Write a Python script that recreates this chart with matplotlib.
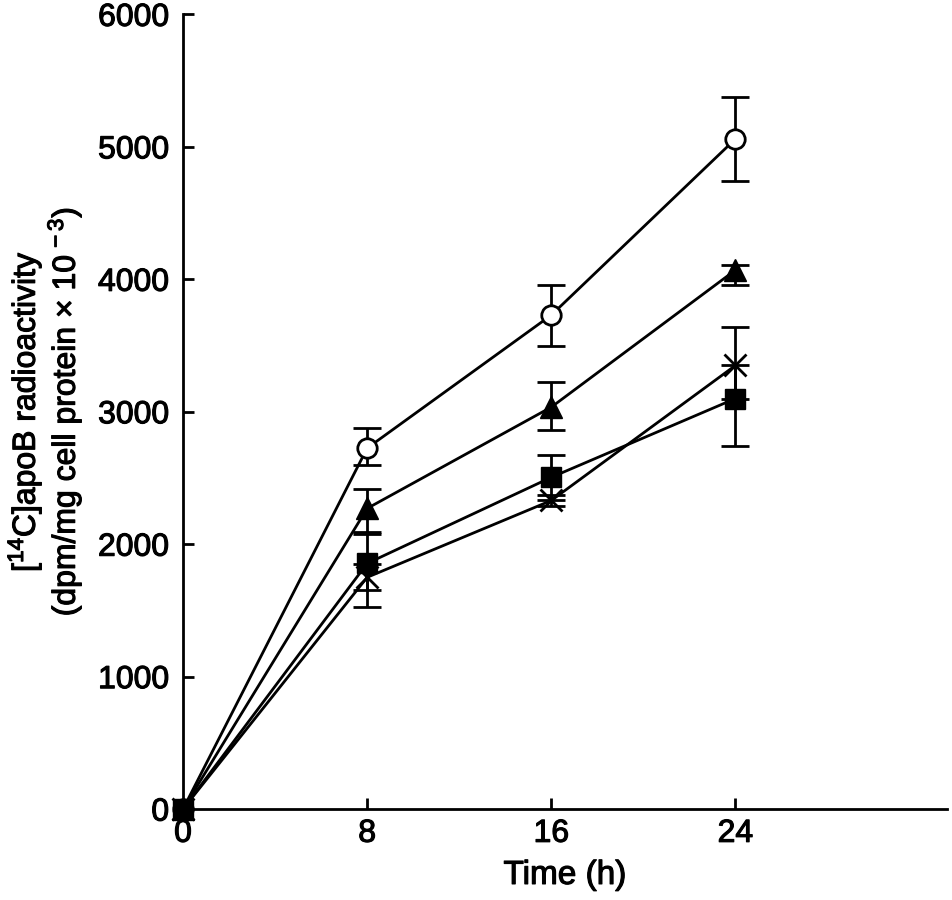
import matplotlib.pyplot as plt
import matplotlib.patheffects as pe

plt.rcParams['font.family'] = ['Liberation Sans', 'DejaVu Sans']
plt.rcParams['mathtext.fontset'] = 'custom'
plt.rcParams['mathtext.rm'] = 'Liberation Sans'
plt.rcParams['mathtext.it'] = 'Liberation Sans'

# time points (h)
time = [0, 8, 16, 24]

# series values and error bars
circle_y = [0, 2725, 3730, 5060]
circle_lo = [0, 130, 235, 320]
circle_hi = [0, 150, 230, 320]

triangle_y = [0, 2270, 3035, 4070]
triangle_lo = [0, 180, 175, 110]
triangle_hi = [0, 150, 190, 40]

square_y = [0, 1855, 2505, 3100]
square_lo = [0, 200, 175, 355]
square_hi = [0, 220, 165, 250]

cross_y = [0, 1750, 2330, 3350]
cross_lo = [0, 225, 40, 250]
cross_hi = [0, 100, 40, 290]

fig = plt.figure(figsize=(9.53, 9.0), dpi=100)
ax = fig.add_axes([0.192, 0.101, 0.802, 0.883])

series = [
    (circle_y, circle_lo, circle_hi, dict(marker='o', ms=14, mfc='white', mec='black', mew=2)),
    (triangle_y, triangle_lo, triangle_hi, dict(marker='^', ms=16, mfc='black', mec='black')),
    (square_y, square_lo, square_hi, dict(marker='s', ms=14, mfc='black', mec='black')),
    (cross_y, cross_lo, cross_hi, dict(marker='x', ms=16, mec='black', mew=2)),
]

for y, lo, hi, style in series:
    ax.errorbar(time[1:], y[1:], yerr=[lo[1:], hi[1:]], fmt='none', ecolor='black',
                elinewidth=2, capsize=10, capthick=2, clip_on=False)
    ax.plot(time, y, color='black', lw=2, clip_on=False, zorder=3, **style)

ax.set_xlim(0, 33.2)
ax.set_ylim(0, 6000)
ax.set_xticks([0, 8, 16, 24])
ax.set_yticks([0, 1000, 2000, 3000, 4000, 5000, 6000])

ax.spines['top'].set_visible(False)
ax.spines['right'].set_visible(False)
for s in ['left', 'bottom']:
    ax.spines[s].set_linewidth(2)
ax.tick_params(axis='both', width=2, length=8, labelsize=23, direction='in')
ax.tick_params(axis='x', pad=7)
ax.tick_params(axis='y', pad=10)

ax.set_xlabel('Time (h)', fontsize=24, labelpad=8)

# y label placed by hand so it stays inside the figure
ylab = fig.text(0.047, 0.543,
                '[$^{14}$C]apoB radioactivity\n(dpm/mg cell protein $\\times$ 10$^{\\,-3}$)',
                rotation=90, ha='center', va='center', fontsize=23, linespacing=1.05,
                multialignment='center')

# slightly heavier text, like the original print
bold = [pe.withStroke(linewidth=0.8, foreground='black')]
for t in ax.get_xticklabels() + ax.get_yticklabels() + [ax.xaxis.label, ylab]:
    t.set_path_effects(bold)

fig.savefig('out.png', dpi=100)
